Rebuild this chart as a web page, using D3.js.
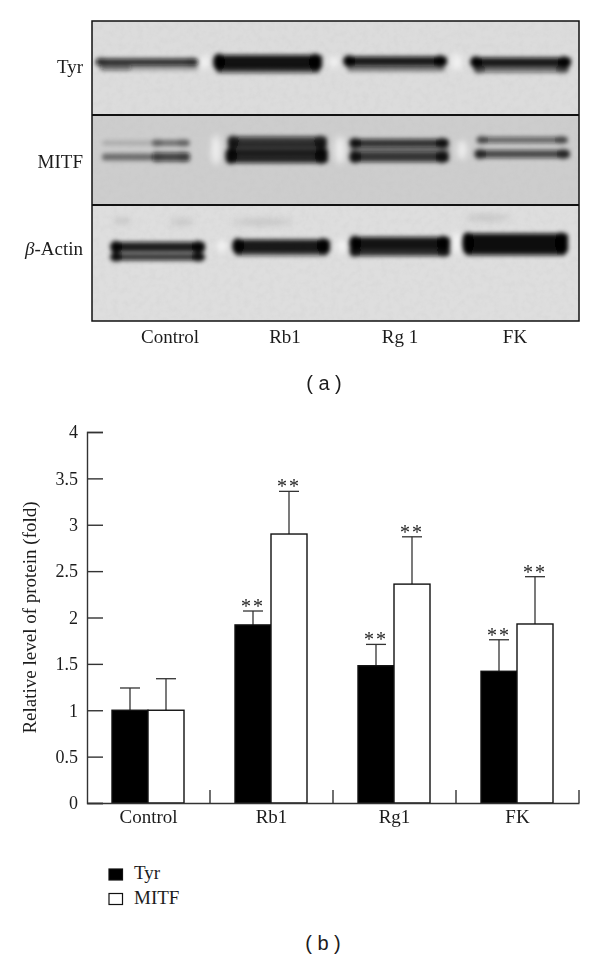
<!DOCTYPE html>
<html>
<head>
<meta charset="utf-8">
<title>Tyr and MITF western blot</title>
<script src="https://cdn.jsdelivr.net/npm/d3@7"></script>
<style>
  html, body { margin: 0; padding: 0; background: #fff; }
  svg { display: block; }
  text { font-family: "Liberation Serif", serif; fill: #1c1c1c; }
  .panel-label { font-family: "Liberation Sans", sans-serif; font-size: 20px; }
</style>
</head>
<body>
<div id="figure"></div>
<script>
// chart values
var categories = ["Control", "Rb1", "Rg1", "FK"];
var seriesNames = ["Tyr", "MITF"];
var tyrValues = [1, 1.92, 1.48, 1.42];
var mitfValues = [1, 2.9, 2.36, 1.93];
var tyrErrorTops = [1.24, 2.07, 1.71, 1.76];
var mitfErrorTops = [1.34, 3.36, 2.87, 2.44];
var tyrSignificant = [false, true, true, true];
var mitfSignificant = [false, true, true, true];
var yTicks = [0, 0.5, 1, 1.5, 2, 2.5, 3, 3.5, 4];

// blot labels
var blotLanes = ["Control", "Rb1", "Rg 1", "FK"];
var blotProteins = ["Tyr", "MITF", "-Actin"];

// blot bands in gel coordinates: [from, to, migration, half thickness, darkness, end spots]
var tyrBands = [
  [4, 106, 41, 3.5, 0.85, 0.2],
  [8, 40, 47, 2.5, 0.55, 0],
  [40, 106, 47, 2.5, 0.28, 0],
  [122, 230, 41, 7, 0.98, 0.9],
  [124, 228, 48, 4, 0.7, 0],
  [252, 355, 40, 4.5, 0.95, 0.8],
  [255, 353, 47, 3.5, 0.45, 0],
  [379, 479, 41, 4.5, 0.95, 0.8],
  [382, 477, 48, 3.5, 0.55, 0.3]
];
var mitfBands = [
  [10, 60, 122, 2.5, 0.16, 0],
  [60, 98, 122, 3, 0.45, 0.15],
  [10, 60, 136, 3.5, 0.48, 0],
  [60, 98, 136, 4.5, 0.72, 0.15],
  [136, 235, 121, 5.5, 0.78, 0.4],
  [136, 235, 128, 6, 0.55, 0],
  [134, 236, 135, 7, 0.88, 0.6],
  [258, 357, 122, 4, 0.82, 0.6],
  [258, 357, 129, 3.5, 0.38, 0],
  [258, 357, 136, 5, 0.8, 0.6],
  [385, 476, 119, 3, 0.58, 0.25],
  [383, 478, 133, 4, 0.7, 0.4]
];
var actinBands = [
  [19, 113, 226, 5, 0.92, 0.7],
  [19, 113, 236, 3.5, 0.82, 0.7],
  [141, 238, 225, 6.5, 0.95, 0.8],
  [143, 236, 232, 3, 0.6, 0],
  [258, 358, 222, 6, 0.97, 0.8],
  [258, 358, 230, 5, 0.85, 0.4],
  [371, 476, 222, 9.5, 1, 0.8],
  [373, 474, 231, 3.5, 0.85, 0]
];
var laneGaps = [[113, 41, 7], [242, 41, 6], [365, 41, 9], [124, 129, 15], [248, 129, 14], [370, 129, 10], [130, 225, 6], [250, 225, 7], [365, 222, 11]];
var gelSmudges = [[30, 200, 9], [90, 201, 12], [170, 201, 30], [395, 197, 22]];

// set up figure and scales
var outerWidth = 600,
    outerHeight = 961,
    plot = {left: 87, right: 579, top: 432, bottom: 803},
    gel = {left: 92, right: 579, top: 21, bottom: 321, line1: 115, line2: 205};

var svg = d3.select("#figure").append("svg")
    .attr("width", outerWidth)
    .attr("height", outerHeight);

var defs = svg.append("defs");

defs.append("filter")
    .attr("id", "soft")
    .attr("x", "-20%").attr("y", "-100%")
    .attr("width", "140%").attr("height", "300%")
  .append("feGaussianBlur")
    .attr("stdDeviation", 2);

defs.append("filter")
    .attr("id", "wide")
    .attr("x", "-100%").attr("y", "-100%")
    .attr("width", "300%").attr("height", "300%")
  .append("feGaussianBlur")
    .attr("stdDeviation", 3);

// grain for the film background
var grain = defs.append("filter")
    .attr("id", "grain")
    .attr("x", 0).attr("y", 0)
    .attr("width", "100%").attr("height", "100%");
grain.append("feTurbulence")
    .attr("type", "fractalNoise")
    .attr("baseFrequency", 0.16)
    .attr("numOctaves", 3)
    .attr("seed", 4);
grain.append("feColorMatrix")
    .attr("values", "0 0 0 0 0.5  0 0 0 0 0.5  0 0 0 0 0.5  1.1 0 0 0 -0.42");

defs.append("clipPath")
    .attr("id", "gel-clip")
  .append("rect")
    .attr("x", gel.left)
    .attr("y", gel.top)
    .attr("width", gel.right - gel.left)
    .attr("height", gel.bottom - gel.top);

drawBlot();
drawBars();

function drawBlot(){
  var gelX = d3.scaleLinear().domain([0, gel.right - gel.left]).range([gel.left, gel.right]);
  var gelY = d3.scaleLinear().domain([0, gel.bottom - gel.top]).range([gel.top, gel.bottom]);

  var film = svg.append("g").attr("clip-path", "url(#gel-clip)");

  var strips = [
    {y0: gel.top, y1: gel.line1, fill: "#dcdcdc"},
    {y0: gel.line1, y1: gel.line2, fill: "#cdcdcd"},
    {y0: gel.line2, y1: gel.bottom, fill: "#dedede"}
  ];

  film.selectAll(".strip")
      .data(strips)
    .enter().append("rect")
      .attr("class", "strip")
      .attr("x", gel.left)
      .attr("y", function(d){ return d.y0; })
      .attr("width", gel.right - gel.left)
      .attr("height", function(d){ return d.y1 - d.y0; })
      .attr("fill", function(d){ return d.fill; });

  film.append("rect")
      .attr("x", gel.left)
      .attr("y", gel.top)
      .attr("width", gel.right - gel.left)
      .attr("height", gel.bottom - gel.top)
      .attr("filter", "url(#grain)")
      .attr("opacity", 0.25);

  // pale halos between the lanes
  film.append("g")
      .attr("filter", "url(#wide)")
    .selectAll("ellipse")
      .data(laneGaps)
    .enter().append("ellipse")
      .attr("cx", function(d){ return gelX(d[0]); })
      .attr("cy", function(d){ return gelY(d[1]); })
      .attr("rx", 5)
      .attr("ry", function(d){ return d[2]; })
      .attr("fill", "#fff")
      .attr("opacity", 0.65);

  film.append("g")
      .attr("filter", "url(#wide)")
    .selectAll("ellipse")
      .data(gelSmudges)
    .enter().append("ellipse")
      .attr("cx", function(d){ return gelX(d[0]); })
      .attr("cy", function(d){ return gelY(d[1]); })
      .attr("rx", function(d){ return d[2]; })
      .attr("ry", 3)
      .attr("fill", "#aaa")
      .attr("opacity", 0.5);

  var bands = film.append("g").attr("filter", "url(#soft)");

  [tyrBands, mitfBands, actinBands].forEach(function(list){
    bands.selectAll(null)
        .data(list)
      .enter().append("rect")
        .attr("x", function(d){ return gelX(d[0]); })
        .attr("y", function(d){ return gelY(d[2] - d[3]); })
        .attr("width", function(d){ return gelX(d[1]) - gelX(d[0]); })
        .attr("height", function(d){ return 2 * d[3]; })
        .attr("rx", 3)
        .attr("fill", "#0c0c0c")
        .attr("opacity", function(d){ return d[4]; });

    // the dark spots at both ends of a band
    var spots = list.filter(function(d){ return d[5] > 0; });
    ["start", "end"].forEach(function(side){
      bands.selectAll(null)
          .data(spots)
        .enter().append("ellipse")
          .attr("cx", function(d){ return side == "start" ? gelX(d[0] + 5) : gelX(d[1] - 7); })
          .attr("cy", function(d){ return gelY(d[2]); })
          .attr("rx", 6)
          .attr("ry", function(d){ return d[3] + 1.5; })
          .attr("fill", "#000")
          .attr("opacity", function(d){ return d[5]; });
    });
  });

  // frame and the two dividers
  svg.append("rect")
      .attr("x", gel.left)
      .attr("y", gel.top)
      .attr("width", gel.right - gel.left)
      .attr("height", gel.bottom - gel.top)
      .attr("fill", "none")
      .attr("stroke", "#111")
      .attr("stroke-width", 1.5);

  svg.selectAll(".divider")
      .data([gel.line1, gel.line2])
    .enter().append("line")
      .attr("class", "divider")
      .attr("x1", gel.left)
      .attr("x2", gel.right)
      .attr("y1", function(d){ return d; })
      .attr("y2", function(d){ return d; })
      .attr("stroke", "#111")
      .attr("stroke-width", 2);

  // labels
  var proteinBaselines = d3.scaleOrdinal().domain(blotProteins).range([73, 168, 255]);

  var proteinLabels = svg.selectAll(".protein")
      .data(blotProteins)
    .enter().append("text")
      .attr("class", "protein")
      .attr("x", 83)
      .attr("y", function(d){ return proteinBaselines(d); })
      .attr("text-anchor", "end")
      .style("font-size", "19px");

  proteinLabels.filter(function(d){ return d == "-Actin"; })
    .append("tspan")
      .style("font-style", "italic")
      .text("\u03b2");

  proteinLabels.append("tspan")
      .text(function(d){ return d; });

  var laneX = d3.scalePoint().domain(blotLanes).range([170, 515]);

  svg.selectAll(".lane")
      .data(blotLanes)
    .enter().append("text")
      .attr("class", "lane")
      .attr("x", function(d){ return laneX(d); })
      .attr("y", 343)
      .attr("text-anchor", "middle")
      .style("font-size", "19px")
      .text(function(d){ return d; });

  svg.append("text")
      .attr("class", "panel-label")
      .attr("x", 324)
      .attr("y", 390)
      .attr("text-anchor", "middle")
      .text("( a )");
};

function drawBars(){
  var x = d3.scaleBand()
      .domain(categories)
      .range([plot.left, plot.right]);

  var xSeries = d3.scaleBand()
      .domain(seriesNames)
      .range([25, 97]);

  var y = d3.scaleLinear()
      .domain([0, 4])
      .range([plot.bottom, plot.top]);

  var rows = [];
  categories.forEach(function(c, i){
    rows.push({category: c, series: "Tyr", value: tyrValues[i], top: tyrErrorTops[i], stars: tyrSignificant[i]});
    rows.push({category: c, series: "MITF", value: mitfValues[i], top: mitfErrorTops[i], stars: mitfSignificant[i]});
  });

  var barLeft = function(d){ return x(d.category) + xSeries(d.series); };
  var barMiddle = function(d){ return barLeft(d) + xSeries.bandwidth() / 2; };
  var capWidth = 20;

  // error bars go first so the bars sit on top of the stems
  var errors = svg.append("g").attr("stroke", "#333").attr("stroke-width", 1.3);

  errors.selectAll(".stem")
      .data(rows)
    .enter().append("line")
      .attr("class", "stem")
      .attr("x1", barMiddle)
      .attr("x2", barMiddle)
      .attr("y1", function(d){ return y(d.value); })
      .attr("y2", function(d){ return y(d.top); });

  errors.selectAll(".cap")
      .data(rows)
    .enter().append("line")
      .attr("class", "cap")
      .attr("x1", function(d){ return barMiddle(d) - capWidth / 2; })
      .attr("x2", function(d){ return barMiddle(d) + capWidth / 2; })
      .attr("y1", function(d){ return y(d.top); })
      .attr("y2", function(d){ return y(d.top); });

  svg.selectAll(".bar")
      .data(rows)
    .enter().append("rect")
      .attr("class", "bar")
      .attr("x", barLeft)
      .attr("y", function(d){ return y(d.value); })
      .attr("width", xSeries.bandwidth())
      .attr("height", function(d){ return y(0) - y(d.value); })
      .attr("fill", function(d){ return d.series == "Tyr" ? "#000" : "#fff"; })
      .attr("stroke", "#111")
      .attr("stroke-width", 1.4);

  svg.selectAll(".stars")
      .data(rows.filter(function(d){ return d.stars; }))
    .enter().append("text")
      .attr("class", "stars")
      .attr("x", barMiddle)
      .attr("y", function(d){ return y(d.top) + 2; })
      .attr("text-anchor", "middle")
      .style("font-size", "20px")
      .style("letter-spacing", "2px")
      .text("**");

  // axes
  var yAxis = d3.axisLeft(y)
      .tickValues(yTicks)
      .tickFormat(d3.format("~g"))
      .tickSize(-16)
      .tickPadding(9);

  var gy = svg.append("g")
      .attr("transform", "translate(" + plot.left + ",0)")
      .call(yAxis);

  var xAxis = d3.axisBottom(x)
      .tickSize(0)
      .tickPadding(7);

  var gx = svg.append("g")
      .attr("transform", "translate(0," + plot.bottom + ")")
      .call(xAxis);

  [gx, gy].forEach(function(axis){
    axis.selectAll("path, line").attr("stroke", "#333").attr("stroke-width", 1.4);
    axis.selectAll("text")
        .attr("fill", "#1c1c1c")
        .style("font-family", "\"Liberation Serif\", serif")
        .style("font-size", axis === gy ? "18px" : "19px");
  });

  // separators between the groups
  svg.selectAll(".separator")
      .data(categories)
    .enter().append("line")
      .attr("class", "separator")
      .attr("x1", function(d){ return x(d) + x.step(); })
      .attr("x2", function(d){ return x(d) + x.step(); })
      .attr("y1", plot.bottom)
      .attr("y2", plot.bottom - 13)
      .attr("stroke", "#333")
      .attr("stroke-width", 1.4);

  svg.append("text")
      .attr("transform", "translate(36," + (plot.bottom + plot.top) / 2 + ") rotate(-90)")
      .attr("text-anchor", "middle")
      .style("font-size", "19px")
      .text("Relative level of protein (fold)");

  // legend
  var legendY = d3.scaleBand()
      .domain(seriesNames)
      .range([863, 912]);

  var legend = svg.selectAll(".legend")
      .data(seriesNames)
    .enter().append("g")
      .attr("class", "legend")
      .attr("transform", function(d){ return "translate(109," + legendY(d) + ")"; });

  legend.append("rect")
      .attr("y", 6)
      .attr("width", 13.5)
      .attr("height", 11)
      .attr("fill", function(d){ return d == "Tyr" ? "#000" : "#fff"; })
      .attr("stroke", "#111")
      .attr("stroke-width", 1.2);

  legend.append("text")
      .attr("x", 25)
      .attr("y", 16)
      .style("font-size", "19px")
      .text(function(d){ return d; });

  svg.append("text")
      .attr("class", "panel-label")
      .attr("x", 323)
      .attr("y", 950)
      .attr("text-anchor", "middle")
      .text("( b )");
};
</script>
</body>
</html>
